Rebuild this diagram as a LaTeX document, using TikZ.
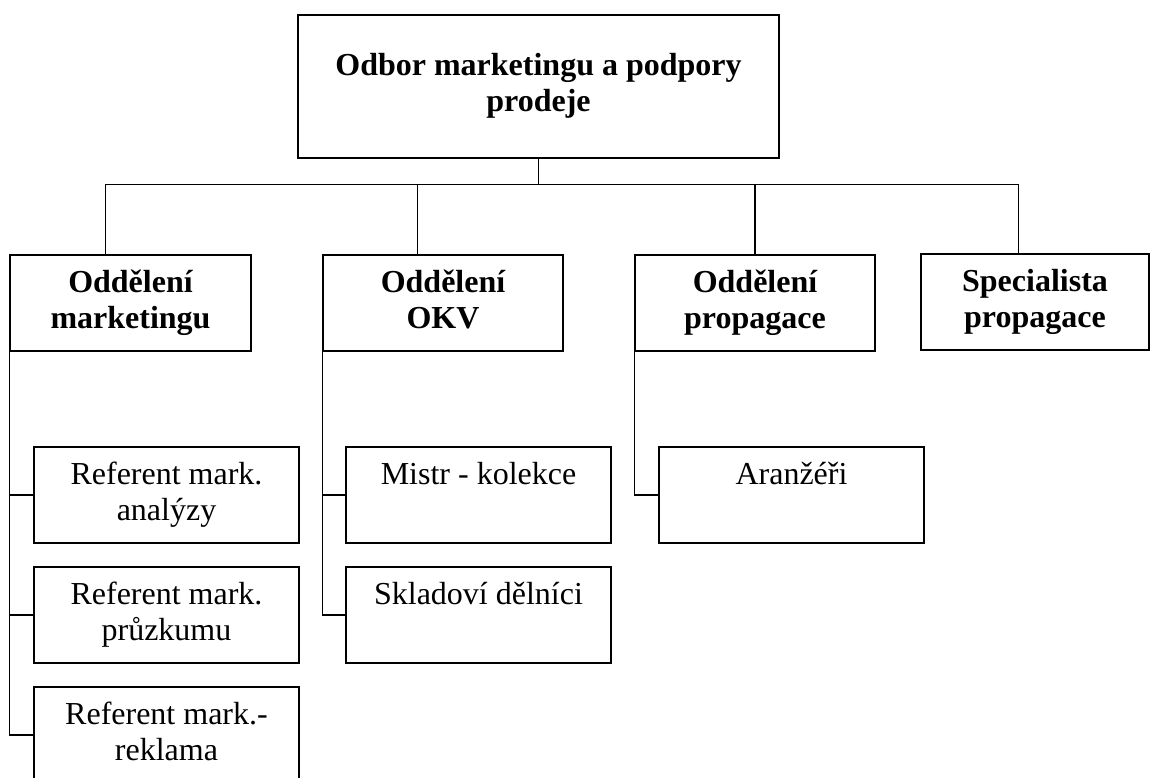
\documentclass[tikz,border=0pt]{standalone}
\usepackage{fontspec}
\setmainfont{Liberation Serif}
\begin{document}
\begin{tikzpicture}[x=1pt,y=-1pt,
  box/.style={draw=black, line width=1.5pt, rectangle, inner sep=0pt, align=center,
    font=\fontsize{32}{36}\selectfont},
  headbox/.style={box, font=\fontsize{32}{36}\selectfont\bfseries},
  subbox/.style={box, minimum width=265pt, minimum height=96pt},
  deptbox/.style={headbox, minimum height=96pt},
  conn/.style={line width=1.5pt, line cap=rect}
]
\useasboundingbox (0,0) rectangle (1151,778);
\fill[white] (0,0) rectangle (1151,778);

\node[headbox, minimum width=481pt, minimum height=143pt] (top) at (538.5,86.5)
  {\strut Odbor marketingu a podpory\\\strut prodeje};

\node[deptbox, minimum width=241pt] (mkt) at (130.5,303) {\strut Oddělení\\\strut marketingu};
\node[deptbox, minimum width=240pt] (okv) at (443,303) {\strut Oddělení\\\strut OKV};
\node[deptbox, minimum width=240pt] (prop) at (755,303) {\strut Oddělení\\\strut propagace};
\node[deptbox, minimum width=228pt] (spec) at (1035,302) {\strut Specialista\\\strut propagace};

\node[subbox] (r1) at (166.5,495) {\strut Referent mark.\\\strut analýzy};
\node[subbox] (r2) at (166.5,615) {\strut Referent mark.\\\strut průzkumu};
\node[subbox] (r3) at (166.5,735) {\strut Referent mark.-\\\strut reklama};

\node[subbox] (m1) at (478.5,495) {\strut Mistr - kolekce\\\strut};
\node[subbox] (m2) at (478.5,615) {\strut Skladoví dělníci\\\strut};

\node[subbox] (a1) at (791.5,495) {\strut Aranžéři\\\strut};

% top level bus
\path (top.south) ++(0,26) coordinate (bus);
\draw[conn] (top.south) -- (bus);
\draw[conn] ([xshift=96pt]mkt.north west) |- (bus) -| ([xshift=98pt]spec.north west);
\draw[conn] ([xshift=95pt]okv.north west) -- ([xshift=95pt]okv.north west |- bus);
\draw[conn] (prop.north) -- (prop.north |- bus);

% marketing branch
\draw[conn] (mkt.south west) |- (r3.west);
\draw[conn] (r1.west) -- (r1.west -| mkt.south west);
\draw[conn] (r2.west) -- (r2.west -| mkt.south west);

% OKV branch
\draw[conn] (okv.south west) |- (m2.west);
\draw[conn] (m1.west) -- (m1.west -| okv.south west);

% propagace branch
\draw[conn] (prop.south west) |- (a1.west);
\end{tikzpicture}
\end{document}
